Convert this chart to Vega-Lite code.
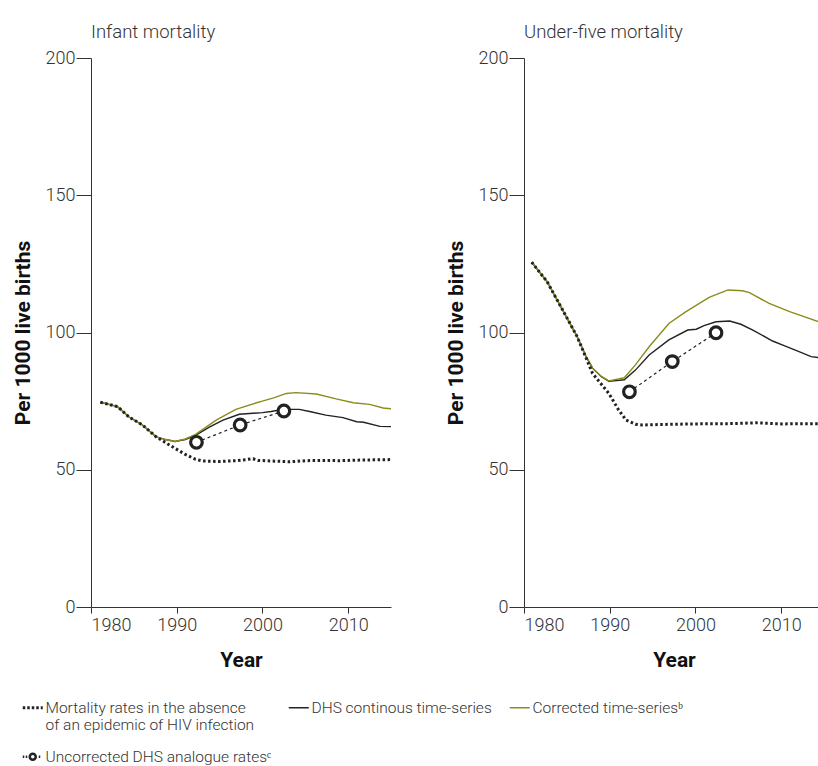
{
  "$schema": "https://vega.github.io/schema/vega-lite/v6.json",
  "background": "white",
  "padding": {"left": 12, "top": 22, "right": 0, "bottom": 0},
  "config": {
    "font": "Roboto",
    "view": {"stroke": null},
    "axis": {"grid": false, "domainColor": "#333333", "tickColor": "#333333", "labelColor": "#333333", "titleColor": "#111111", "labelFont": "Roboto", "titleFont": "Roboto", "labelFontSize": 18, "titleFontSize": 21, "titleFontWeight": "bold", "labelFontWeight": 300},
    "axisX": {"tickSize": 6, "labelPadding": 3, "titlePadding": 15},
    "axisY": {"tickSize": 15, "labelPadding": 1, "titlePadding": 12}
  },
  "data": {"values": [
    {"panel": "Infant mortality", "series": "No HIV", "year": 1981.1, "value": 74.6},
    {"panel": "Infant mortality", "series": "No HIV", "year": 1983.1, "value": 73.0},
    {"panel": "Infant mortality", "series": "No HIV", "year": 1984.4, "value": 69.3},
    {"panel": "Infant mortality", "series": "No HIV", "year": 1986.0, "value": 66.3},
    {"panel": "Infant mortality", "series": "No HIV", "year": 1987.6, "value": 62.0},
    {"panel": "Infant mortality", "series": "No HIV", "year": 1989.8, "value": 57.8},
    {"panel": "Infant mortality", "series": "No HIV", "year": 1991.0, "value": 55.6},
    {"panel": "Infant mortality", "series": "No HIV", "year": 1992.2, "value": 53.8},
    {"panel": "Infant mortality", "series": "No HIV", "year": 1993.0, "value": 53.2},
    {"panel": "Infant mortality", "series": "No HIV", "year": 1995.0, "value": 53.0},
    {"panel": "Infant mortality", "series": "No HIV", "year": 1997.0, "value": 53.3},
    {"panel": "Infant mortality", "series": "No HIV", "year": 1998.9, "value": 54.0},
    {"panel": "Infant mortality", "series": "No HIV", "year": 1999.5, "value": 53.4},
    {"panel": "Infant mortality", "series": "No HIV", "year": 2001.0, "value": 53.2},
    {"panel": "Infant mortality", "series": "No HIV", "year": 2003.2, "value": 52.9},
    {"panel": "Infant mortality", "series": "No HIV", "year": 2005.0, "value": 53.3},
    {"panel": "Infant mortality", "series": "No HIV", "year": 2007.0, "value": 53.4},
    {"panel": "Infant mortality", "series": "No HIV", "year": 2009.0, "value": 53.3},
    {"panel": "Infant mortality", "series": "No HIV", "year": 2011.0, "value": 53.5},
    {"panel": "Infant mortality", "series": "No HIV", "year": 2013.0, "value": 53.6},
    {"panel": "Infant mortality", "series": "No HIV", "year": 2015.0, "value": 53.7},

    {"panel": "Infant mortality", "series": "DHS", "year": 1981.1, "value": 74.6},
    {"panel": "Infant mortality", "series": "DHS", "year": 1983.1, "value": 73.0},
    {"panel": "Infant mortality", "series": "DHS", "year": 1984.4, "value": 69.3},
    {"panel": "Infant mortality", "series": "DHS", "year": 1986.0, "value": 66.3},
    {"panel": "Infant mortality", "series": "DHS", "year": 1987.6, "value": 62.0},
    {"panel": "Infant mortality", "series": "DHS", "year": 1988.7, "value": 61.0},
    {"panel": "Infant mortality", "series": "DHS", "year": 1989.8, "value": 60.3},
    {"panel": "Infant mortality", "series": "DHS", "year": 1991.0, "value": 61.0},
    {"panel": "Infant mortality", "series": "DHS", "year": 1992.2, "value": 62.5},
    {"panel": "Infant mortality", "series": "DHS", "year": 1993.8, "value": 65.5},
    {"panel": "Infant mortality", "series": "DHS", "year": 1995.4, "value": 68.1},
    {"panel": "Infant mortality", "series": "DHS", "year": 1997.3, "value": 70.2},
    {"panel": "Infant mortality", "series": "DHS", "year": 1998.5, "value": 70.5},
    {"panel": "Infant mortality", "series": "DHS", "year": 2000.0, "value": 70.8},
    {"panel": "Infant mortality", "series": "DHS", "year": 2001.0, "value": 71.2},
    {"panel": "Infant mortality", "series": "DHS", "year": 2002.4, "value": 72.0},
    {"panel": "Infant mortality", "series": "DHS", "year": 2004.3, "value": 72.0},
    {"panel": "Infant mortality", "series": "DHS", "year": 2005.5, "value": 71.2},
    {"panel": "Infant mortality", "series": "DHS", "year": 2007.4, "value": 69.9},
    {"panel": "Infant mortality", "series": "DHS", "year": 2009.4, "value": 69.0},
    {"panel": "Infant mortality", "series": "DHS", "year": 2011.0, "value": 67.5},
    {"panel": "Infant mortality", "series": "DHS", "year": 2011.8, "value": 67.3},
    {"panel": "Infant mortality", "series": "DHS", "year": 2013.7, "value": 65.8},
    {"panel": "Infant mortality", "series": "DHS", "year": 2015.0, "value": 65.7},

    {"panel": "Infant mortality", "series": "Corrected", "year": 1981.1, "value": 74.6},
    {"panel": "Infant mortality", "series": "Corrected", "year": 1983.1, "value": 73.0},
    {"panel": "Infant mortality", "series": "Corrected", "year": 1984.4, "value": 69.3},
    {"panel": "Infant mortality", "series": "Corrected", "year": 1986.0, "value": 66.3},
    {"panel": "Infant mortality", "series": "Corrected", "year": 1987.6, "value": 62.0},
    {"panel": "Infant mortality", "series": "Corrected", "year": 1988.7, "value": 61.0},
    {"panel": "Infant mortality", "series": "Corrected", "year": 1989.8, "value": 60.3},
    {"panel": "Infant mortality", "series": "Corrected", "year": 1991.0, "value": 61.2},
    {"panel": "Infant mortality", "series": "Corrected", "year": 1992.2, "value": 62.9},
    {"panel": "Infant mortality", "series": "Corrected", "year": 1994.6, "value": 68.1},
    {"panel": "Infant mortality", "series": "Corrected", "year": 1996.9, "value": 72.0},
    {"panel": "Infant mortality", "series": "Corrected", "year": 1999.3, "value": 74.4},
    {"panel": "Infant mortality", "series": "Corrected", "year": 2000.0, "value": 75.0},
    {"panel": "Infant mortality", "series": "Corrected", "year": 2001.3, "value": 76.2},
    {"panel": "Infant mortality", "series": "Corrected", "year": 2002.8, "value": 77.8},
    {"panel": "Infant mortality", "series": "Corrected", "year": 2003.9, "value": 78.1},
    {"panel": "Infant mortality", "series": "Corrected", "year": 2006.3, "value": 77.6},
    {"panel": "Infant mortality", "series": "Corrected", "year": 2008.6, "value": 75.8},
    {"panel": "Infant mortality", "series": "Corrected", "year": 2010.6, "value": 74.4},
    {"panel": "Infant mortality", "series": "Corrected", "year": 2012.5, "value": 73.8},
    {"panel": "Infant mortality", "series": "Corrected", "year": 2014.1, "value": 72.5},
    {"panel": "Infant mortality", "series": "Corrected", "year": 2015.0, "value": 72.2},

    {"panel": "Infant mortality", "series": "Uncorrected", "year": 1992.3, "value": 60.0},
    {"panel": "Infant mortality", "series": "Uncorrected", "year": 1997.4, "value": 66.3},
    {"panel": "Infant mortality", "series": "Uncorrected", "year": 2002.5, "value": 71.4},

    {"panel": "Under-five mortality", "series": "No HIV", "year": 1980.9, "value": 125.6},
    {"panel": "Under-five mortality", "series": "No HIV", "year": 1982.7, "value": 118.5},
    {"panel": "Under-five mortality", "series": "No HIV", "year": 1984.4, "value": 108.8},
    {"panel": "Under-five mortality", "series": "No HIV", "year": 1986.2, "value": 98.5},
    {"panel": "Under-five mortality", "series": "No HIV", "year": 1988.0, "value": 85.1},
    {"panel": "Under-five mortality", "series": "No HIV", "year": 1989.9, "value": 77.8},
    {"panel": "Under-five mortality", "series": "No HIV", "year": 1991.0, "value": 72.0},
    {"panel": "Under-five mortality", "series": "No HIV", "year": 1991.9, "value": 68.1},
    {"panel": "Under-five mortality", "series": "No HIV", "year": 1993.0, "value": 66.6},
    {"panel": "Under-five mortality", "series": "No HIV", "year": 1993.8, "value": 66.3},
    {"panel": "Under-five mortality", "series": "No HIV", "year": 1996.0, "value": 66.5},
    {"panel": "Under-five mortality", "series": "No HIV", "year": 2000.0, "value": 66.7},
    {"panel": "Under-five mortality", "series": "No HIV", "year": 2004.0, "value": 66.8},
    {"panel": "Under-five mortality", "series": "No HIV", "year": 2007.1, "value": 67.1},
    {"panel": "Under-five mortality", "series": "No HIV", "year": 2010.0, "value": 66.7},
    {"panel": "Under-five mortality", "series": "No HIV", "year": 2015.0, "value": 66.8},

    {"panel": "Under-five mortality", "series": "DHS", "year": 1980.9, "value": 125.6},
    {"panel": "Under-five mortality", "series": "DHS", "year": 1982.7, "value": 118.5},
    {"panel": "Under-five mortality", "series": "DHS", "year": 1984.4, "value": 108.8},
    {"panel": "Under-five mortality", "series": "DHS", "year": 1986.2, "value": 98.5},
    {"panel": "Under-five mortality", "series": "DHS", "year": 1987.2, "value": 91.5},
    {"panel": "Under-five mortality", "series": "DHS", "year": 1988.0, "value": 87.0},
    {"panel": "Under-five mortality", "series": "DHS", "year": 1989.0, "value": 84.0},
    {"panel": "Under-five mortality", "series": "DHS", "year": 1989.9, "value": 82.2},
    {"panel": "Under-five mortality", "series": "DHS", "year": 1991.7, "value": 82.8},
    {"panel": "Under-five mortality", "series": "DHS", "year": 1993.0, "value": 86.3},
    {"panel": "Under-five mortality", "series": "DHS", "year": 1994.6, "value": 91.8},
    {"panel": "Under-five mortality", "series": "DHS", "year": 1996.9, "value": 97.3},
    {"panel": "Under-five mortality", "series": "DHS", "year": 1999.1, "value": 100.9},
    {"panel": "Under-five mortality", "series": "DHS", "year": 2000.1, "value": 101.2},
    {"panel": "Under-five mortality", "series": "DHS", "year": 2001.0, "value": 102.5},
    {"panel": "Under-five mortality", "series": "DHS", "year": 2002.4, "value": 103.9},
    {"panel": "Under-five mortality", "series": "DHS", "year": 2004.0, "value": 104.2},
    {"panel": "Under-five mortality", "series": "DHS", "year": 2005.3, "value": 103.0},
    {"panel": "Under-five mortality", "series": "DHS", "year": 2006.7, "value": 100.9},
    {"panel": "Under-five mortality", "series": "DHS", "year": 2009.0, "value": 96.9},
    {"panel": "Under-five mortality", "series": "DHS", "year": 2010.2, "value": 95.4},
    {"panel": "Under-five mortality", "series": "DHS", "year": 2011.8, "value": 93.4},
    {"panel": "Under-five mortality", "series": "DHS", "year": 2013.5, "value": 91.2},
    {"panel": "Under-five mortality", "series": "DHS", "year": 2015.0, "value": 90.6},

    {"panel": "Under-five mortality", "series": "Corrected", "year": 1980.9, "value": 125.6},
    {"panel": "Under-five mortality", "series": "Corrected", "year": 1982.7, "value": 118.5},
    {"panel": "Under-five mortality", "series": "Corrected", "year": 1984.4, "value": 108.8},
    {"panel": "Under-five mortality", "series": "Corrected", "year": 1986.2, "value": 98.5},
    {"panel": "Under-five mortality", "series": "Corrected", "year": 1987.2, "value": 91.5},
    {"panel": "Under-five mortality", "series": "Corrected", "year": 1988.0, "value": 87.0},
    {"panel": "Under-five mortality", "series": "Corrected", "year": 1989.0, "value": 84.0},
    {"panel": "Under-five mortality", "series": "Corrected", "year": 1989.9, "value": 82.4},
    {"panel": "Under-five mortality", "series": "Corrected", "year": 1991.7, "value": 83.5},
    {"panel": "Under-five mortality", "series": "Corrected", "year": 1993.0, "value": 88.2},
    {"panel": "Under-five mortality", "series": "Corrected", "year": 1994.6, "value": 94.8},
    {"panel": "Under-five mortality", "series": "Corrected", "year": 1996.9, "value": 103.3},
    {"panel": "Under-five mortality", "series": "Corrected", "year": 1998.9, "value": 107.6},
    {"panel": "Under-five mortality", "series": "Corrected", "year": 2001.6, "value": 112.8},
    {"panel": "Under-five mortality", "series": "Corrected", "year": 2003.8, "value": 115.5},
    {"panel": "Under-five mortality", "series": "Corrected", "year": 2005.5, "value": 115.2},
    {"panel": "Under-five mortality", "series": "Corrected", "year": 2006.3, "value": 114.5},
    {"panel": "Under-five mortality", "series": "Corrected", "year": 2008.6, "value": 110.6},
    {"panel": "Under-five mortality", "series": "Corrected", "year": 2011.0, "value": 107.6},
    {"panel": "Under-five mortality", "series": "Corrected", "year": 2014.4, "value": 103.9},
    {"panel": "Under-five mortality", "series": "Corrected", "year": 2015.0, "value": 103.4},

    {"panel": "Under-five mortality", "series": "Uncorrected", "year": 1992.3, "value": 78.4},
    {"panel": "Under-five mortality", "series": "Uncorrected", "year": 1997.3, "value": 89.4},
    {"panel": "Under-five mortality", "series": "Uncorrected", "year": 2002.4, "value": 99.9}
  ]},
  "facet": {
    "column": {
      "field": "panel", "type": "nominal",
      "sort": ["Infant mortality", "Under-five mortality"],
      "header": {"title": null, "labelAnchor": "start", "labelFontSize": 18.5, "labelFont": "Roboto", "labelFontWeight": 300, "labelColor": "#333333", "labelPadding": 8}
    }
  },
  "spacing": 54,
  "resolve": {"axis": {"y": "independent", "x": "independent"}},
  "spec": {
    "width": 300,
    "height": 549,
    "encoding": {
      "x": {"field": "year", "type": "quantitative", "scale": {"domain": [1980, 2015], "nice": false}, "axis": {"values": [1980, 1990, 2000, 2010], "format": "d", "title": "Year"}},
      "y": {"field": "value", "type": "quantitative", "scale": {"domain": [0, 200], "nice": false}, "axis": {"values": [0, 50, 100, 150, 200], "title": "Per 1000 live births"}},
      "color": {
        "field": "series", "type": "nominal",
        "scale": {"domain": ["No HIV", "DHS", "Corrected", "Uncorrected"], "range": ["#222222", "#222222", "#8c8c1c", "#222222"]},
        "legend": {
          "title": null, "orient": "none", "legendX": -66, "legendY": 642, "direction": "horizontal", "columns": 3, "gridAlign": "none",
          "columnPadding": 14, "rowPadding": 14, "symbolSize": 400, "symbolType": "stroke",
          "labelFont": "Roboto", "labelFontWeight": 300, "labelFontSize": 15.5, "labelColor": "#333333", "labelOffset": 5, "labelLimit": 400,
          "labelExpr": "datum.value === 'No HIV' ? ['Mortality rates in the absence', 'of an epidemic of HIV infection'] : datum.value === 'DHS' ? ['DHS continous time-series', ''] : datum.value === 'Corrected' ? ['Corrected time-seriesᵇ', ''] : 'Uncorrected DHS analogue ratesᶜ'",
          "encode": {
            "symbols": {"update": {
              "shape": {"signal": "datum.value === 'Uncorrected' ? 'M-1,0H-0.85M-0.7,0H-0.55M0.3,0A0.3,0.3 0 1 1 -0.3,0A0.3,0.3 0 1 1 0.3,0M0.6,0H0.75' : 'stroke'"},
              "strokeDash": {"signal": "datum.value === 'No HIV' ? [2.5, 2] : []"},
              "strokeWidth": {"signal": "datum.value === 'No HIV' ? 3 : datum.value === 'Uncorrected' ? 2.5 : 1.5"},
              "fill": {"value": "transparent"}
            }}
          }
        }
      }
    },
    "layer": [
      {"transform": [{"filter": "datum.series === 'DHS' || datum.series === 'Corrected'"}],
       "mark": {"type": "line", "strokeWidth": 1.4, "clip": true}},
      {"transform": [{"filter": "datum.series === 'No HIV'"}],
       "mark": {"type": "line", "strokeWidth": 3, "strokeDash": [2.5, 2.5], "clip": true}},
      {"transform": [{"filter": "datum.series === 'Uncorrected'"}],
       "mark": {"type": "line", "strokeWidth": 1.2, "strokeDash": [3, 3]}},
      {"transform": [{"filter": "datum.series === 'Uncorrected'"}],
       "mark": {"type": "point", "shape": "circle", "filled": false, "fill": "white", "fillOpacity": 1, "size": 135, "strokeWidth": 3.2, "opacity": 1}}
    ]
  }
}
